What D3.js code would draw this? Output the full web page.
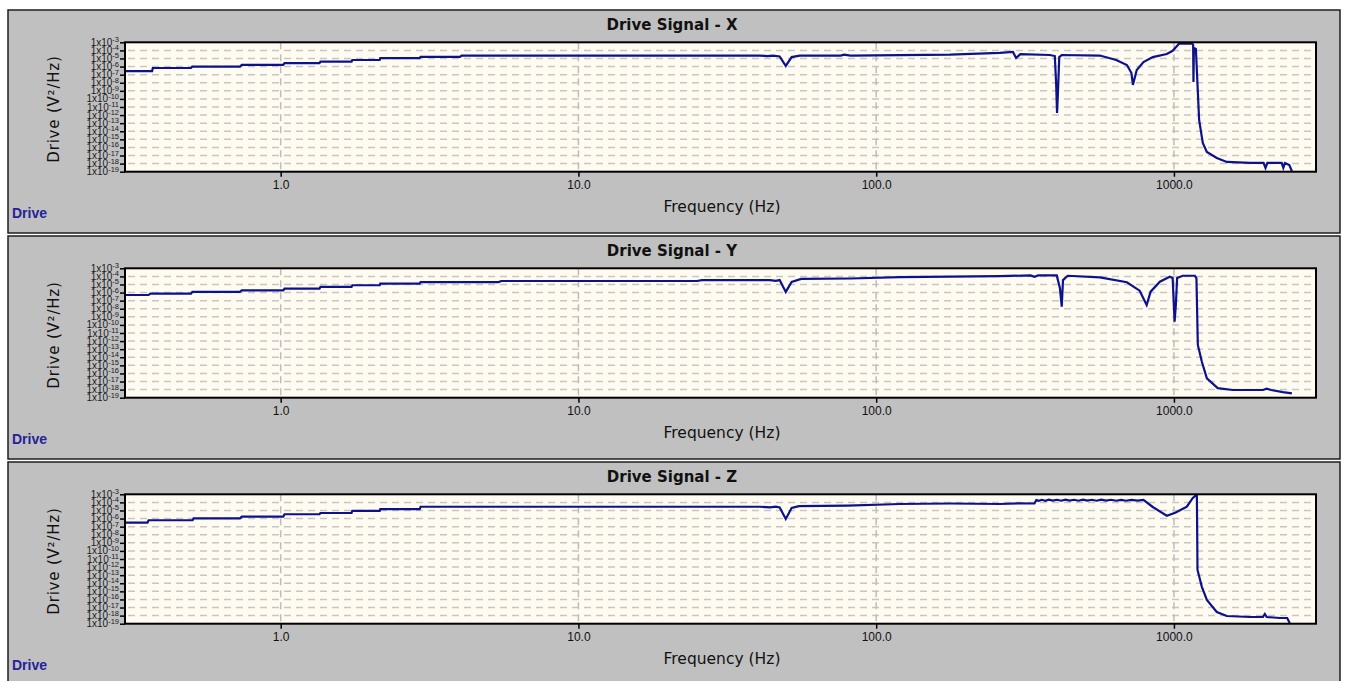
<!DOCTYPE html>
<html>
<head>
<meta charset="utf-8">
<style>
  html, body { margin: 0; padding: 0; background: #fff; }
  svg { display: block; }
</style>
<script src="https://cdn.jsdelivr.net/npm/d3@7"></script>
</head>
<body>
<div id="chart"></div>
<script>
// ---- data ----
const panelTitles = ["Drive Signal - X", "Drive Signal - Y", "Drive Signal - Z"];
const freqTicks = [1, 10, 100, 1000];
const freqTickLabels = ["1.0", "10.0", "100.0", "1000.0"];
const yTickExponents = [-3, -4, -5, -6, -7, -8, -9, -10, -11, -12, -13, -14, -15, -16, -17, -18, -19];

// [frequency Hz, drive V^2/Hz]
const seriesX = [
  [0.30, 2.8e-7], [0.37, 2.8e-7], [0.372, 6.6e-7], [0.50, 6.6e-7], [0.505, 1.0e-6], [0.73, 1.0e-6],
  [0.74, 1.6e-6], [1.02, 1.6e-6], [1.03, 2.6e-6], [1.35, 2.6e-6], [1.36, 4.0e-6], [1.73, 4.0e-6],
  [1.74, 6.5e-6], [2.15, 6.5e-6], [2.16, 1.1e-5], [2.93, 1.1e-5], [2.95, 1.6e-5], [4.0, 1.6e-5],
  [4.05, 2.3e-5], [40.6, 2.3e-5], [43, 2.0e-5], [45, 2.3e-5], [47.4, 1.8e-5], [49.7, 1.2e-6],
  [52, 1.5e-5], [55.4, 2.3e-5], [76, 2.3e-5], [78, 3.0e-5], [82, 2.3e-5], [177, 3.0e-5],
  [260, 4.8e-5], [288, 6.3e-5], [295, 1.15e-5], [305, 3.5e-5], [383, 2.7e-5], [398, 2.0e-5],
  [402, 1.0e-8], [405, 1.8e-12], [408, 1.0e-9], [412, 1.5e-5], [420, 2.7e-5], [564, 2.3e-5],
  [640, 6.5e-6], [695, 1.55e-6], [720, 1.6e-7], [728, 5.3e-9], [750, 3.8e-7], [790, 3.6e-6],
  [849, 1.5e-5], [946, 3.5e-5], [990, 9.0e-5], [1031, 4.6e-4], [1040, 7.0e-4], [1150, 7.0e-4],
  [1160, 5.0e-4], [1163, 1.2e-8], [1167, 2.0e-4], [1185, 1.5e-4], [1215, 2.5e-13], [1250, 3.5e-16],
  [1290, 2.7e-17], [1393, 5.0e-18], [1505, 1.6e-18], [1800, 1.2e-18], [2000, 1.2e-18], [2030, 2.9e-19],
  [2060, 1.2e-18], [2300, 1.2e-18], [2330, 3.0e-19], [2360, 1.2e-18], [2440, 6.7e-19], [2490, 1.2e-19]
];

const seriesY = [
  [0.30, 5.0e-7], [0.36, 5.0e-7], [0.365, 7.5e-7], [0.50, 7.5e-7], [0.505, 1.2e-6], [0.73, 1.2e-6],
  [0.74, 1.9e-6], [1.02, 1.9e-6], [1.03, 3.0e-6], [1.35, 3.0e-6], [1.36, 5.0e-6], [1.73, 5.0e-6],
  [1.74, 8.0e-6], [2.15, 8.0e-6], [2.16, 1.3e-5], [2.93, 1.3e-5], [2.95, 2.0e-5], [5.4, 2.0e-5],
  [5.5, 2.7e-5], [25, 2.7e-5], [26, 3.5e-5], [44, 3.5e-5], [46, 2.8e-5], [47.4, 3.5e-5],
  [49.7, 1.2e-6], [52, 2.0e-5], [56, 4.8e-5], [82, 5.5e-5], [120, 8.3e-5], [260, 1.1e-4],
  [330, 1.3e-4], [340, 9.0e-5], [350, 1.3e-4], [404, 1.3e-4], [414, 3.6e-6], [420, 1.8e-8],
  [424, 3.5e-5], [440, 1.2e-4], [564, 7.7e-5], [695, 1.9e-5], [767, 1.7e-6], [810, 2.9e-8],
  [835, 1.3e-6], [897, 2.2e-5], [968, 9.1e-5], [990, 6.3e-5], [1005, 2.5e-10], [1015, 2.9e-8],
  [1025, 6.3e-5], [1071, 1.2e-4], [1175, 1.2e-4], [1190, 6.3e-5], [1203, 3.3e-13], [1241, 2.8e-15],
  [1290, 2.5e-17], [1403, 1.5e-18], [1577, 9.0e-19], [1990, 9.0e-19], [2050, 1.3e-18], [2120, 9.0e-19],
  [2323, 5.0e-19], [2490, 3.5e-19]
];

const seriesZ = [
  [0.30, 3.1e-7], [0.357, 3.1e-7], [0.36, 6.2e-7], [0.506, 6.2e-7], [0.51, 1.07e-6], [0.73, 1.07e-6],
  [0.74, 1.7e-6], [1.02, 1.7e-6], [1.03, 3.4e-6], [1.35, 3.4e-6], [1.36, 4.9e-6], [1.73, 4.9e-6],
  [1.74, 8.7e-6], [2.15, 8.7e-6], [2.16, 1.5e-5], [2.93, 1.5e-5], [2.95, 2.9e-5], [40.6, 2.9e-5],
  [44, 2.4e-5], [46, 2.9e-5], [47.4, 2.4e-5], [49.7, 8.9e-7], [52, 2.0e-5], [55, 3.5e-5],
  [80, 4.0e-5], [120, 6.3e-5], [177, 7.3e-5], [260, 6.3e-5], [300, 7.5e-5], [340, 7.3e-5],
  [345, 2.0e-4], [352, 1.6e-4], [360, 2.1e-4], [370, 1.6e-4], [380, 2.2e-4], [392, 1.7e-4],
  [405, 2.1e-4], [418, 1.6e-4], [432, 2.2e-4], [446, 1.7e-4], [462, 2.1e-4], [478, 1.6e-4],
  [495, 2.2e-4], [512, 1.7e-4], [530, 2.1e-4], [550, 1.6e-4], [570, 2.2e-4], [592, 1.7e-4],
  [615, 2.1e-4], [640, 1.6e-4], [665, 2.0e-4], [690, 1.6e-4], [720, 2.0e-4], [755, 1.7e-4],
  [790, 2.0e-4], [849, 2.7e-5], [946, 2.2e-6], [1010, 5.3e-6], [1105, 2.9e-5], [1157, 3.5e-4],
  [1180, 6.5e-4], [1194, 6.5e-4], [1200, 4.4e-13], [1241, 3.6e-15], [1290, 8.5e-17], [1393, 2.8e-18],
  [1505, 9.0e-19], [1800, 6.7e-19], [1990, 6.7e-19], [2020, 1.6e-18], [2050, 6.7e-19], [2270, 5.1e-19],
  [2400, 5.1e-19], [2449, 1.2e-19]
];

const panelSeries = [seriesX, seriesY, seriesZ];

// ---- layout ----
const W = 1346, H = 681;
const panelLeft = 8, panelWidth = 1332, panelHeight = 223, panelStep = 226, firstPanelTop = 10;
const plotLeft = 125, plotRight = 1316, plotTop = 32.3, plotBottom = 161.7;

const svg = d3.select("#chart")
  .append("svg")
  .attr("width", W)
  .attr("height", H)
  .style("font-family", "'Liberation Sans', Arial, sans-serif");

const x = d3.scaleLog().domain([0.3, 3000]).range([plotLeft, plotRight]);
const y = d3.scaleLog().domain([1e-19, 1e-3]).range([plotBottom, plotTop]);

const line = d3.line()
  .x((d) => x(d[0]))
  .y((d) => y(d[1]));

panelSeries.forEach((series, i) => {
  const top = firstPanelTop + i * panelStep;
  const g = svg.append("g").attr("transform", `translate(0, ${top})`);

  g.append("rect")
    .attr("x", panelLeft)
    .attr("y", 0)
    .attr("width", panelWidth)
    .attr("height", panelHeight)
    .attr("fill", "#c0c0c0")
    .attr("stroke", "#1e1e1e")
    .attr("stroke-width", 1.5);

  g.append("text")
    .attr("x", 672)
    .attr("y", 19.5)
    .attr("text-anchor", "middle")
    .style("font-family", "'DejaVu Sans', Verdana, sans-serif")
    .style("font-weight", "bold")
    .style("font-size", "15px")
    .style("fill", "#111")
    .text(panelTitles[i]);

  // plot background
  g.append("rect")
    .attr("x", plotLeft)
    .attr("y", plotTop)
    .attr("width", plotRight - plotLeft)
    .attr("height", plotBottom - plotTop)
    .attr("fill", "#fffbf1");

  // horizontal grid at each inner decade
  const innerDecades = yTickExponents.slice(1, -1).map((e) => Math.pow(10, e));
  g.append("g")
    .selectAll("line")
    .data(innerDecades)
    .join("line")
    .attr("x1", plotLeft + 3)
    .attr("x2", plotRight)
    .attr("y1", (d) => y(d))
    .attr("y2", (d) => y(d))
    .attr("stroke", "#c6c6c6")
    .attr("stroke-width", 1.5)
    .attr("stroke-dasharray", "7,5");

  // vertical grid at decades
  g.append("g")
    .selectAll("line")
    .data(freqTicks)
    .join("line")
    .attr("x1", (d) => x(d))
    .attr("x2", (d) => x(d))
    .attr("y1", plotTop)
    .attr("y2", plotBottom)
    .attr("stroke", "#bdbdbd")
    .attr("stroke-width", 1.5)
    .attr("stroke-dasharray", "7,5");

  // clip for the trace
  const clipId = `clip-${i}`;
  g.append("clipPath")
    .attr("id", clipId)
    .append("rect")
    .attr("x", plotLeft)
    .attr("y", plotTop)
    .attr("width", plotRight - plotLeft)
    .attr("height", plotBottom - plotTop);

  g.append("path")
    .datum(series)
    .attr("clip-path", `url(#${clipId})`)
    .attr("d", line)
    .attr("fill", "none")
    .attr("stroke", "#0c128c")
    .attr("stroke-width", 2.2)
    .attr("stroke-linejoin", "miter");

  // plot border
  g.append("rect")
    .attr("x", plotLeft)
    .attr("y", plotTop)
    .attr("width", plotRight - plotLeft)
    .attr("height", plotBottom - plotTop)
    .attr("fill", "none")
    .attr("stroke", "#000")
    .attr("stroke-width", 2);

  // x axis
  const xAxis = g.append("g")
    .attr("transform", `translate(0, ${plotBottom})`)
    .call(
      d3.axisBottom(x)
        .tickValues(freqTicks)
        .tickFormat((d, k) => freqTickLabels[k])
        .tickSize(5)
        .tickPadding(4)
    );
  xAxis.select(".domain").remove();
  xAxis.selectAll(".tick line").attr("stroke", "#000").attr("stroke-width", 1.5);
  xAxis.selectAll(".tick text")
    .style("font-family", "'Liberation Sans', Arial, sans-serif")
    .style("font-size", "12px")
    .style("fill", "#111");

  // y axis ticks
  const yAxis = g.append("g")
    .attr("transform", `translate(${plotLeft}, 0)`)
    .call(
      d3.axisLeft(y)
        .tickValues(yTickExponents.map((e) => Math.pow(10, e)))
        .tickFormat("")
        .tickSize(5)
    );
  yAxis.select(".domain").remove();
  yAxis.selectAll(".tick line").attr("stroke", "#000").attr("stroke-width", 1.5);

  // y tick labels: 1x10^-n, packed tightly as in the original
  const yLabels = g.append("g");
  yTickExponents.forEach((e) => {
    const t = yLabels.append("text")
      .attr("x", 119)
      .attr("y", y(Math.pow(10, e)) + 3.5)
      .attr("text-anchor", "end")
      .style("font-size", "10px")
      .style("fill", "#1a1a1a");
    t.append("tspan").text("1x10");
    t.append("tspan")
      .attr("dy", -3.5)
      .style("font-size", "7.5px")
      .text(e);
  });

  // axis titles
  g.append("text")
    .attr("transform", `translate(59, ${(plotTop + plotBottom) / 2 + 2}) rotate(-90)`)
    .attr("text-anchor", "middle")
    .style("font-family", "'DejaVu Sans', Verdana, sans-serif")
    .style("font-size", "15px")
    .style("letter-spacing", "0.8px")
    .style("fill", "#111")
    .text("Drive (V²/Hz)");

  g.append("text")
    .attr("x", 722)
    .attr("y", 202)
    .attr("text-anchor", "middle")
    .style("font-family", "'DejaVu Sans', Verdana, sans-serif")
    .style("font-size", "15.5px")
    .style("fill", "#111")
    .text("Frequency (Hz)");

  // legend entry
  g.append("text")
    .attr("x", 12)
    .attr("y", 208)
    .style("font-size", "14px")
    .style("font-weight", "bold")
    .style("fill", "#23239a")
    .text("Drive");
});
</script>
</body>
</html>
